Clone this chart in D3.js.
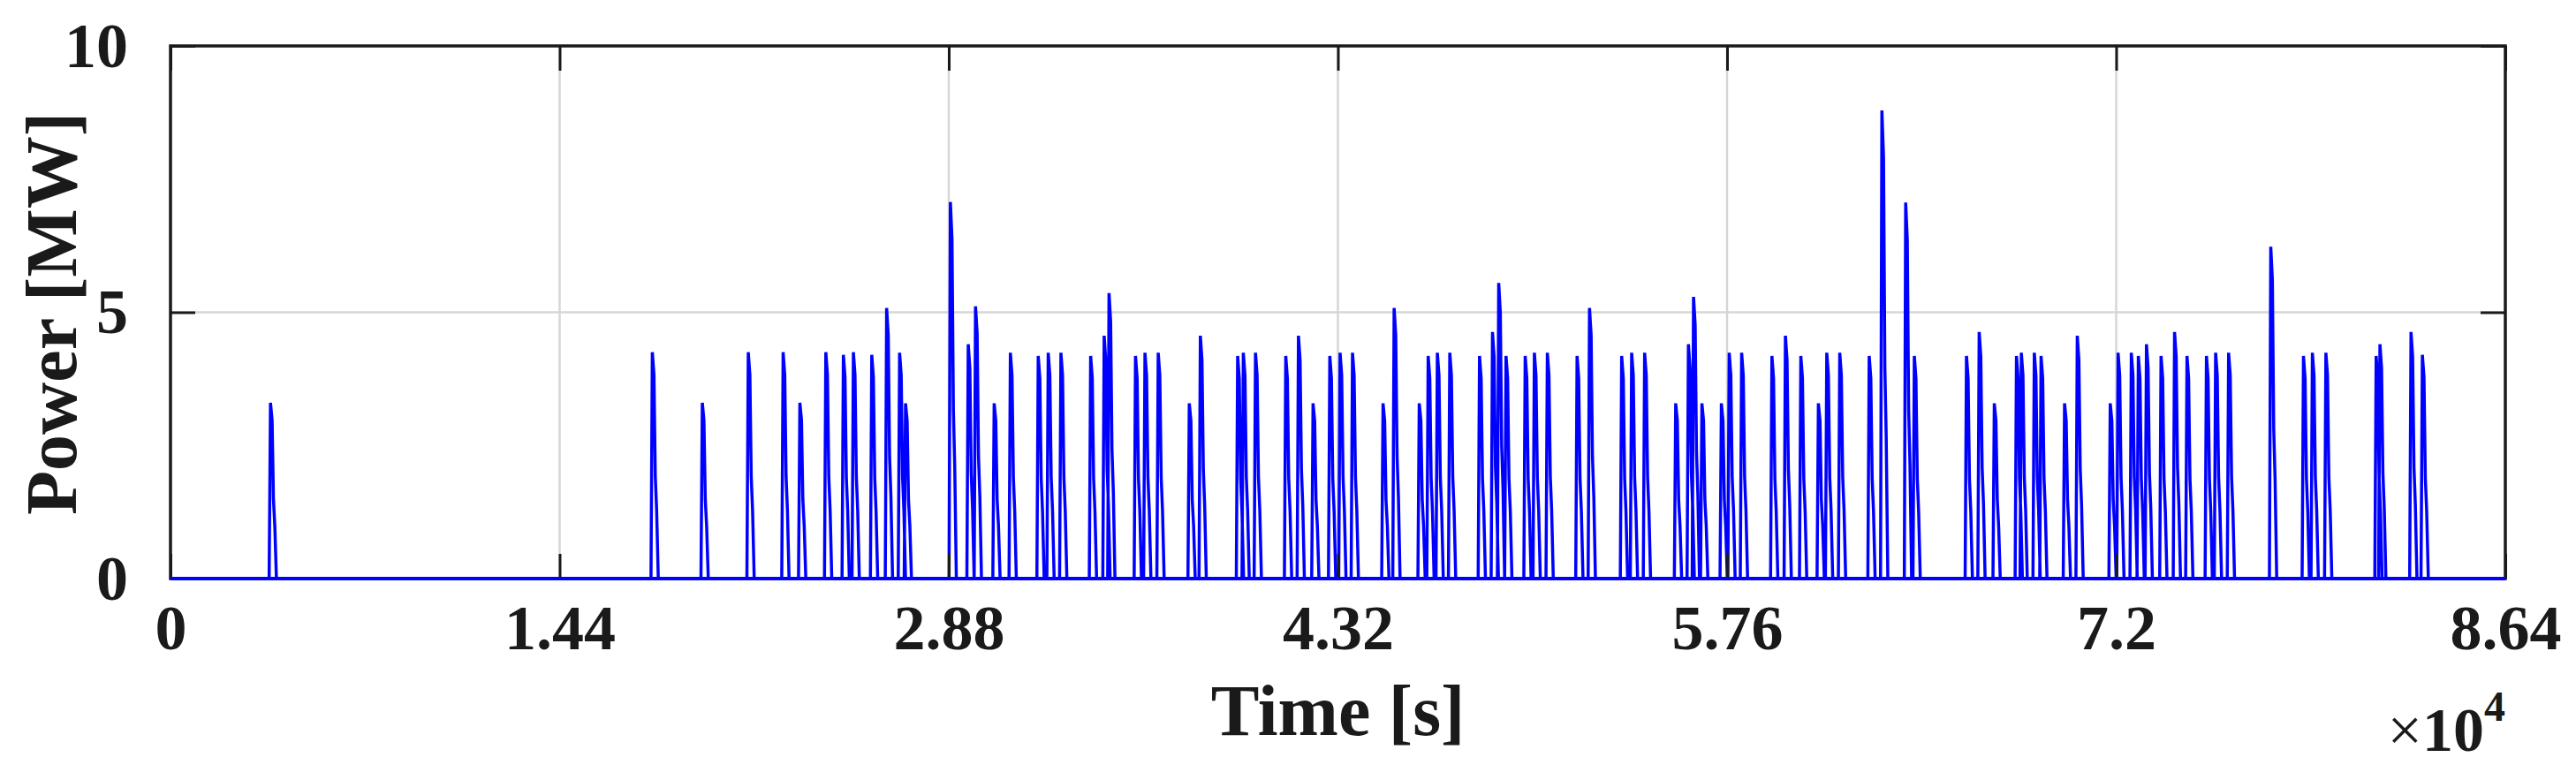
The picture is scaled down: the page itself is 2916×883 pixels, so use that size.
<!DOCTYPE html>
<html>
<head>
<meta charset="utf-8">
<script src="https://cdn.jsdelivr.net/npm/d3@7"></script>
<style>
  body { margin: 0; background: #fff; }
  text { font-family: "Liberation Serif", "Times New Roman", serif; font-weight: bold; fill: #1a1a1a; }
</style>
</head>
<body>
<div id="chart"></div>
<script>
// spike times (x10^4 s) and peak power (MW)
var spikeTimes = [0.370, 1.783, 1.968, 2.138, 2.267, 2.329, 2.425, 2.490, 2.527, 2.595, 2.650, 2.698, 2.720,
    2.886, 2.952, 2.979, 3.048, 3.108, 3.211, 3.248, 3.295, 3.405, 3.455, 3.473, 3.571, 3.606, 3.655,
    3.770, 3.811, 3.949, 3.970, 4.015, 4.127, 4.174, 4.228, 4.290, 4.328, 4.374, 4.487, 4.528,
    4.621, 4.654, 4.688, 4.734, 4.844, 4.892, 4.915, 4.942, 5.013, 5.047, 5.095, 5.205, 5.251,
    5.370, 5.407, 5.455, 5.570, 5.617, 5.636, 5.667, 5.739, 5.768, 5.814, 5.926, 5.976, 6.033,
    6.098, 6.129, 6.177, 6.286, 6.333, 6.421, 6.453, 6.646, 6.693, 6.749, 6.831, 6.849, 6.897,
    6.922, 7.009, 7.056, 7.178, 7.207, 7.256, 7.282, 7.312, 7.366, 7.416, 7.462, 7.534, 7.568,
    7.616, 7.772, 7.893, 7.926, 7.976, 8.162, 8.176, 8.291, 8.333];
var spikePeaks = [3.3, 4.25, 3.3, 4.25, 4.25, 3.3, 4.25, 4.2, 4.25, 4.2, 5.08, 4.24, 3.29,
    7.07, 4.4, 5.11, 3.29, 4.24, 4.18, 4.24, 4.24, 4.18, 4.56, 5.36, 4.18, 4.24, 4.24,
    3.29, 4.56, 4.18, 4.24, 4.24, 4.18, 4.56, 3.29, 4.18, 4.24, 4.24, 3.29, 5.08,
    3.29, 4.18, 4.24, 4.24, 4.18, 4.63, 5.55, 4.18, 4.18, 4.24, 4.24, 4.18, 5.08,
    4.18, 4.24, 4.24, 3.29, 4.4, 5.29, 3.29, 3.29, 4.24, 4.24, 4.18, 4.56, 4.18,
    3.29, 4.24, 4.24, 4.18, 8.79, 7.06, 4.18, 4.18, 4.63, 3.29, 4.18, 4.24, 4.24,
    4.18, 3.29, 4.56, 3.29, 4.24, 4.24, 4.18, 4.4, 4.18, 4.63, 4.18, 4.18, 4.24,
    4.24, 6.23, 4.18, 4.24, 4.24, 4.18, 4.4, 4.63, 4.2];
var xTicks = [0, 1.44, 2.88, 4.32, 5.76, 7.2, 8.64];
var yTicks = [0, 5, 10];

var W = 2916, H = 883;
var m = { left: 193, right: 2836, top: 52, bottom: 655 };

var svg = d3.select("#chart").append("svg").attr("width", W).attr("height", H);
var x = d3.scaleLinear().domain([0, 8.64]).range([m.left, m.right]);
var y = d3.scaleLinear().domain([0, 10]).range([m.bottom, m.top]);

// grid
svg.selectAll(".gx").data(xTicks.slice(1, -1)).enter().append("line")
    .attr("x1", d => x(d)).attr("x2", d => x(d)).attr("y1", m.top).attr("y2", m.bottom)
    .attr("stroke", "#d6d6d6").attr("stroke-width", 2.5);
svg.selectAll(".gy").data([5]).enter().append("line")
    .attr("x1", m.left).attr("x2", m.right).attr("y1", d => y(d)).attr("y2", d => y(d))
    .attr("stroke", "#d6d6d6").attr("stroke-width", 2.5);

// build the series: every spike goes up to its peak, steps down and back to 0
var pts = [[0, 0]];
spikeTimes.forEach(function (t, i) {
    var p = spikePeaks[i];
    pts.push([t - 0.005, 0], [t, p], [t + 0.006, p * 0.9], [t + 0.011, p * 0.45],
        [t + 0.016, p * 0.3], [t + 0.022, 0]);
});
pts.push([8.64, 0]);

svg.append("path").datum(pts)
    .attr("d", d3.line().x(d => x(d[0])).y(d => y(d[1])))
    .attr("fill", "none").attr("stroke", "#0000ff").attr("stroke-width", 3.5);

// axes with inward ticks
var tl = 28;
var gxB = svg.append("g").attr("transform", "translate(0," + m.bottom + ")")
    .call(d3.axisBottom(x).tickValues(xTicks).tickSize(-tl).tickPadding(tl + 38).tickFormat(d => d));
var gxT = svg.append("g").attr("transform", "translate(0," + m.top + ")")
    .call(d3.axisTop(x).tickValues(xTicks).tickSize(-tl).tickFormat(""));
var gyL = svg.append("g").attr("transform", "translate(" + m.left + ",0)")
    .call(d3.axisLeft(y).tickValues(yTicks).tickSize(-tl).tickPadding(tl + 20));
var gyR = svg.append("g").attr("transform", "translate(" + m.right + ",0)")
    .call(d3.axisRight(y).tickValues(yTicks).tickSize(-tl).tickFormat(""));
[gxB, gxT, gyL, gyR].forEach(function (g) {
    g.select(".domain").remove();
    g.selectAll("line").attr("stroke", "#1a1a1a").attr("stroke-width", 3);
    g.selectAll("text").attr("font-size", 72).attr("font-family", "Liberation Serif").attr("font-weight", "bold").attr("fill", "#1a1a1a");
});
gxB.selectAll("text").attr("dy", "0.2em");

svg.append("rect").attr("x", m.left).attr("y", m.top)
    .attr("width", m.right - m.left).attr("height", m.bottom - m.top)
    .attr("fill", "none").attr("stroke", "#1a1a1a").attr("stroke-width", 3.5);
// thick zero line drawn by the series
svg.append("line").attr("x1", x(0)).attr("x2", x(8.64)).attr("y1", y(0)).attr("y2", y(0))
    .attr("stroke", "#0000ff").attr("stroke-width", 4);

// labels
svg.append("text").attr("x", (m.left + m.right) / 2).attr("y", 832)
    .attr("text-anchor", "middle").attr("font-size", 82).text("Time [s]");
svg.append("text").attr("transform", "translate(86,355) rotate(-90)")
    .attr("text-anchor", "middle").attr("font-size", 82).text("Power [MW]");
var ex = svg.append("text").attr("x", m.right).attr("y", 850).attr("text-anchor", "end").attr("font-size", 70);
ex.append("tspan").attr("font-weight", "normal").text("×");
ex.append("tspan").text("10");
ex.append("tspan").attr("font-size", 48).attr("dy", -34).text("4");
</script>
</body>
</html>
